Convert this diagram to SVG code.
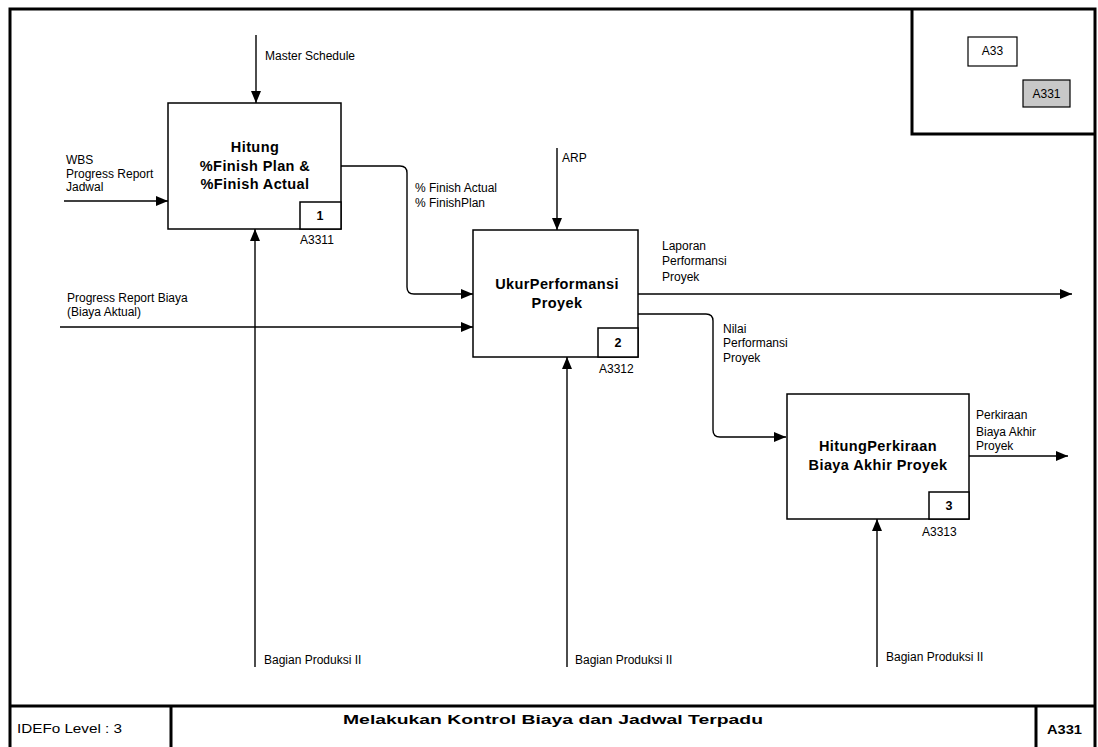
<svg xmlns="http://www.w3.org/2000/svg" width="1098" height="747" viewBox="0 0 1098 747">
<style>
.frame{fill:none;stroke:#000;stroke-width:3}
.box{fill:#fff;stroke:#000;stroke-width:1.5}
.num{fill:#fff;stroke:#000;stroke-width:1.5}
.conn{fill:none;stroke:#000;stroke-width:1.4}
.lbl{font-family:"Liberation Sans",Arial,sans-serif;font-size:12px;fill:#000}
.title{font-family:"Liberation Sans",Arial,sans-serif;font-size:14.5px;font-weight:bold;fill:#000;text-anchor:middle;letter-spacing:0.4px}
.n{font-family:"Liberation Sans",Arial,sans-serif;font-size:12.5px;font-weight:bold;fill:#000;text-anchor:middle}
.foot{font-family:"Liberation Sans",Arial,sans-serif;font-size:13px;fill:#000}
</style>
<defs>
<marker id="arr" viewBox="0 0 12 10" refX="12" refY="5" markerWidth="12" markerHeight="10" markerUnits="userSpaceOnUse" orient="auto">
<path d="M0,0 L12,5 L0,10 z" fill="#000"/>
</marker>
</defs>
<rect width="1098" height="747" fill="#fff"/>
<g id="frame">
<path class="frame" d="M10,749 V9 H1095 V749"/>
<line class="frame" x1="10" y1="706" x2="1095" y2="706"/>
<line class="frame" x1="171" y1="706" x2="171" y2="749"/>
<line class="frame" x1="1036" y1="706" x2="1036" y2="749"/>
<path class="frame" d="M912,9 V134 H1095"/>
<text class="foot" x="17" y="733" textLength="105" lengthAdjust="spacingAndGlyphs">IDEFo Level : 3</text>
<text class="foot" x="343" y="724" font-weight="bold" font-size="15.5" textLength="420" lengthAdjust="spacingAndGlyphs">Melakukan Kontrol Biaya dan Jadwal Terpadu</text>
<text class="foot" x="1047" y="734" font-weight="bold" textLength="35" lengthAdjust="spacingAndGlyphs">A331</text>
</g>
<g id="context">
<rect x="968" y="37" width="49" height="29" fill="#fff" stroke="#000" stroke-width="1.2"/>
<text class="lbl" x="992.5" y="55" text-anchor="middle">A33</text>
<rect x="1023" y="80" width="47" height="27" fill="#c8c8c8" stroke="#000" stroke-width="1.2"/>
<text class="lbl" x="1046.5" y="98" text-anchor="middle">A331</text>
</g>
<g id="connectors">
<line class="conn" x1="256" y1="35" x2="256" y2="103" marker-end="url(#arr)"/>
<line class="conn" x1="64" y1="201" x2="168" y2="201" marker-end="url(#arr)"/>
<line class="conn" x1="255" y1="667" x2="255" y2="229" marker-end="url(#arr)"/>
<path class="conn" d="M341,166 H400 Q407,166 407,173 V287 Q407,294 414,294 H473" marker-end="url(#arr)"/>
<line class="conn" x1="60" y1="327" x2="473" y2="327" marker-end="url(#arr)"/>
<line class="conn" x1="557" y1="148" x2="557" y2="230" marker-end="url(#arr)"/>
<line class="conn" x1="567" y1="667" x2="567" y2="357" marker-end="url(#arr)"/>
<line class="conn" x1="638" y1="294" x2="1072" y2="294" marker-end="url(#arr)"/>
<path class="conn" d="M638,314 H706 Q713,314 713,321 V430 Q713,437 720,437 H786" marker-end="url(#arr)"/>
<line class="conn" x1="877" y1="667" x2="877" y2="519" marker-end="url(#arr)"/>
<line class="conn" x1="969" y1="456" x2="1068" y2="456" marker-end="url(#arr)"/>
<text class="lbl" x="265" y="60">Master Schedule</text>
<text class="lbl" x="66" y="164">WBS</text>
<text class="lbl" x="66" y="178">Progress  Report</text>
<text class="lbl" x="66" y="191">Jadwal</text>
<text class="lbl" x="264" y="664">Bagian Produksi II</text>
<text class="lbl" x="415" y="192">% Finish Actual</text>
<text class="lbl" x="415" y="207">% FinishPlan</text>
<text class="lbl" x="562" y="162">ARP</text>
<text class="lbl" x="67" y="302">Progress Report Biaya</text>
<text class="lbl" x="67" y="316">(Biaya Aktual)</text>
<text class="lbl" x="662" y="250">Laporan</text>
<text class="lbl" x="662" y="265">Performansi</text>
<text class="lbl" x="662" y="281">Proyek</text>
<text class="lbl" x="723" y="333">Nilai</text>
<text class="lbl" x="723" y="347">Performansi</text>
<text class="lbl" x="723" y="362">Proyek</text>
<text class="lbl" x="575" y="664">Bagian Produksi II</text>
<text class="lbl" x="976" y="419">Perkiraan</text>
<text class="lbl" x="976" y="436">Biaya  Akhir</text>
<text class="lbl" x="976" y="450">Proyek</text>
<text class="lbl" x="886" y="661">Bagian Produksi II</text>
</g>
<g id="node1">
<rect class="box" x="168" y="103" width="173" height="126"/>
<rect class="num" x="300" y="202" width="41" height="27"/>
<text class="n" x="320" y="220">1</text>
<text class="title" x="255" y="152">Hitung</text>
<text class="title" x="255" y="171">%Finish Plan &amp;</text>
<text class="title" x="255" y="189">%Finish Actual</text>
<text class="lbl" x="300" y="244">A3311</text>
</g>
<g id="node2">
<rect class="box" x="473" y="230" width="165" height="127"/>
<rect class="num" x="598" y="328" width="40" height="29"/>
<text class="n" x="618" y="347">2</text>
<text class="title" x="557" y="289">UkurPerformansi</text>
<text class="title" x="557" y="308">Proyek</text>
<text class="lbl" x="599" y="373">A3312</text>
</g>
<g id="node3">
<rect class="box" x="787" y="394" width="182" height="125"/>
<rect class="num" x="929" y="492" width="40" height="27"/>
<text class="n" x="949" y="510">3</text>
<text class="title" x="878" y="451">HitungPerkiraan</text>
<text class="title" x="878" y="470">Biaya Akhir Proyek</text>
<text class="lbl" x="922" y="536">A3313</text>
</g>
</svg>
